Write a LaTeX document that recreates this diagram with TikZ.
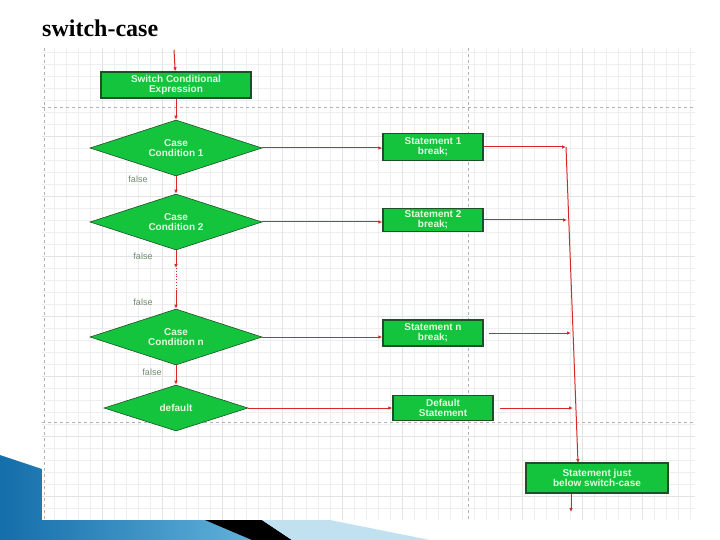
\documentclass[tikz,border=0pt]{standalone}
\usepackage{fontspec}
\setmainfont{Liberation Serif}
\newfontfamily\sansf{Liberation Sans}
\usetikzlibrary{shapes.geometric,arrows.meta}
\definecolor{gfill}{RGB}{20,196,60}
\definecolor{gdraw}{RGB}{30,80,40}
\definecolor{rline}{RGB}{215,40,40}
\definecolor{gtext}{RGB}{225,250,225}
\definecolor{ftext}{RGB}{110,140,110}
\definecolor{blueA}{RGB}{20,110,170}
\definecolor{blueB}{RGB}{100,180,220}
\tikzset{
 box/.style={draw=gdraw,line width=1.4pt,fill=gfill,text=gtext,font=\sansf\bfseries\fontsize{10}{10.5}\selectfont,align=center,inner sep=0pt},
 dia/.style={diamond,draw=gdraw,line width=0.6pt,fill=gfill,text=gtext,font=\sansf\bfseries\fontsize{10}{10.5}\selectfont,align=center,inner sep=0pt,aspect=3},
 flow/.style={draw=rline,line width=1pt,-{Latex[length=4pt,width=3.5pt]}},
 lbl/.style={text=ftext,font=\sansf\fontsize{9}{10}\selectfont},
}
\begin{document}
\begin{tikzpicture}[x=1pt,y=-1pt]
\useasboundingbox (0,0) rectangle (720,540);
\fill[white] (0,0) rectangle (720,540);
% decorations
\shade[left color=blueA,right color=blueB] (0,455) -- (45,470) -- (45,520) -- (240,520) -- (262,540) -- (0,540) -- cycle;
\fill[black] (205,520) -- (262,520) -- (292,540) -- (252,540) -- cycle;
\fill[blueB!40] (262,520) -- (330,520) -- (430,540) -- (292,540) -- cycle;
% panel
\fill[white] (42,48) rectangle (695,520);
\foreach \x in {54,66,...,690} \draw[gray!13,line width=0.4pt] (\x,48) -- (\x,520);
\foreach \y in {52,64,...,518} \draw[gray!13,line width=0.4pt] (42,\y) -- (695,\y);
\foreach \x in {102,162,222,282,342,402,522,582,642} \draw[gray!22,line width=0.6pt] (\x,48) -- (\x,520);
\foreach \y in {136,196,256,316,376,436,496} \draw[gray!22,line width=0.6pt] (42,\y) -- (695,\y);
\draw[gray!60,dashed,line width=0.6pt] (44,48) -- (44,520);
\draw[gray!60,dashed,line width=0.6pt] (42,107) -- (695,107);
\draw[gray!60,dashed,line width=0.6pt] (42,422) -- (695,422);
\draw[gray!60,dashed,line width=0.6pt] (468,48) -- (468,520);
% title
\node[anchor=west,font=\bfseries\fontsize{24}{26}\selectfont,inner sep=0pt] (title) at (42,28) {switch-case};
% nodes
\node[box,minimum width=150,minimum height=26] (sw) at (176,85) {Switch Conditional\\Expression};
\node[dia,minimum width=172,minimum height=56] (c1) at (176,148) {Case\\Condition 1};
\node[dia,minimum width=172,minimum height=56] (c2) at (176,222) {Case\\Condition 2};
\node[dia,minimum width=172,minimum height=56] (cn) at (176,337) {Case\\Condition n};
\node[dia,minimum width=144,minimum height=46] (df) at (176,408) {default};
\node[box,minimum width=100,minimum height=27] (s1) at (433,147) {Statement 1\\break;};
\node[box,minimum width=100,minimum height=23] (s2) at (433,220) {Statement 2\\break;};
\node[box,minimum width=100,minimum height=26] (sn) at (433,333) {Statement n\\break;};
\node[box,minimum width=100,minimum height=25] (sd) at (443,408) {Default\\Statement};
\node[box,minimum width=142,minimum height=30] (fin) at (597,478) {Statement just\\below switch-case};
\coordinate (top) at (174,50);
\coordinate (d1) at (176,268);
\coordinate (d2) at (176,290);
\coordinate (j1) at (566,147);
\coordinate (j2) at (567,220);
\coordinate (jn) at (571,333);
\coordinate (jd) at (573,408);
\coordinate (jb) at (578,463);
\coordinate (out) at (571,512);
\coordinate (sno) at (489,333);
\coordinate (sdo) at (500,408);
% connectors
\draw[flow] (top) -- (sw);
\draw[flow] (sw) -- (c1);
\draw[flow] (c1) -- (c2);
\draw[flow] (c2) -- (d1);
\draw[rline,dotted,line width=0.8pt] (d1) -- (d2);
\draw[flow] (d2) -- (cn);
\draw[flow] (cn) -- (df);
\draw[flow] (c1.east) -- (c1.east -| s1.west);
\draw[flow] (c2.east) -- (c2.east -| s2.west);
\draw[flow] (cn.east) -- (cn.east -| sn.west);
\draw[flow] (df.east) -- (df.east -| sd.west);
\draw[flow] (s1) -- (j1);
\draw[flow] (s2) -- (j2);
\draw[flow] (sno) -- (jn);
\draw[flow] (sdo) -- (jd);
\draw[flow] (j1) -- (jb);
\draw[flow] (fin.south -| out) -- (out);
% labels
\node[lbl] (f1) at (138,179) {false};
\node[lbl] (f2) at (143,256) {false};
\node[lbl] (f3) at (143,302) {false};
\node[lbl] (f4) at (152,372) {false};
\end{tikzpicture}
\end{document}
